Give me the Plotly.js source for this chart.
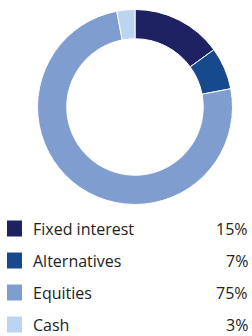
<!DOCTYPE html>
<html><head><meta charset="utf-8">
<script src="https://cdn.plot.ly/plotly-3.0.1.min.js"></script>
<style>html,body{margin:0;padding:0;background:#fff}#chart{width:252px;height:336px}</style>
</head><body><div id="chart"></div>
<script>
const categories = ["Fixed interest", "Alternatives", "Equities", "Cash"];
const values = [15, 7, 75, 3];
const percentLabels = ["15%", "7%", "75%", "3%"];
const colors = ["#1e2262", "#164a8c", "#7f9ecf", "#bcd4ef"];

const W = 252, H = 336;
const font = {family: "Open Sans, sans-serif", size: 16, color: "#222222"};
const rowTop = 228.5, rowGap = 32;
const annotations = [], shapes = [];
categories.forEach((c, i) => {
  const yc = 1 - (rowTop + i * rowGap) / H;
  annotations.push({xref: "paper", yref: "paper", x: 31 / W, y: yc, xanchor: "left", yanchor: "middle",
    text: c, showarrow: false, font: font});
  annotations.push({xref: "paper", yref: "paper", x: 250 / W, y: yc, xanchor: "right", yanchor: "middle",
    text: percentLabels[i], showarrow: false, font: font});
  shapes.push({type: "rect", xref: "paper", yref: "paper", x0: 7 / W, x1: 22 / W,
    y0: yc - 8 / H, y1: yc + 8 / H, fillcolor: colors[i], line: {width: 0}});
});

const data = [{
  type: "pie", labels: categories, values: values, hole: 0.70, sort: false,
  direction: "clockwise", rotation: 0,
  marker: {colors: colors, line: {color: "#ffffff", width: 1}},
  textinfo: "none", hoverinfo: "label+percent",
  domain: {x: [(135 - 97.5) / W, (135 + 97.5) / W], y: [1 - 204.5 / H, 1 - 9.5 / H]}
}];
const layout = {
  width: W, height: H, margin: {l: 0, r: 0, t: 0, b: 0},
  paper_bgcolor: "#ffffff", showlegend: false,
  annotations: annotations, shapes: shapes
};
Plotly.newPlot("chart", data, layout, {displayModeBar: false, staticPlot: true});
</script></body></html>
